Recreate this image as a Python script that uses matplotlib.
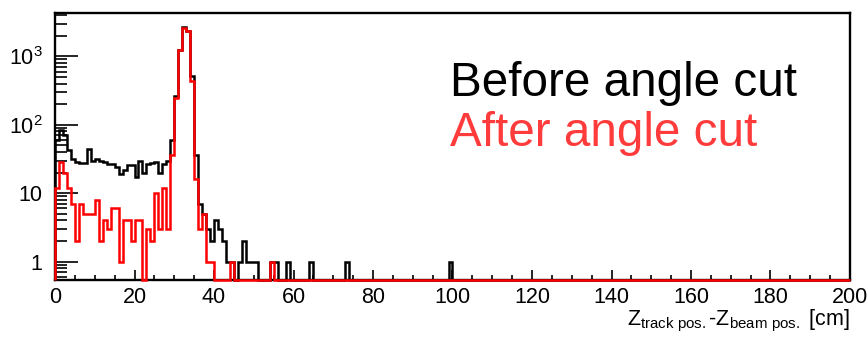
import numpy as np
import matplotlib
matplotlib.use('Agg')
import matplotlib.pyplot as plt
from matplotlib.ticker import FixedLocator, FixedFormatter, LogLocator, NullFormatter, MultipleLocator

plt.rcParams['font.family'] = ['Liberation Sans', 'DejaVu Sans']
plt.rcParams['mathtext.fontset'] = 'custom'
plt.rcParams['mathtext.rm'] = 'Liberation Sans'
plt.rcParams['mathtext.it'] = 'Liberation Sans:italic'

# histogram binning: 200 bins of 1 cm from 0 to 200
n_bins = 200
x_lo, x_hi = 0, 200

# counts per bin, bins 0..55
before_counts = [60, 85, 70, 43, 32, 29, 28, 28, 44, 30,
                 32, 30, 29, 27, 27, 24, 19, 22, 26, 26,
                 17, 30, 20, 27, 28, 29, 20, 27, 30, 60,
                 260, 1250, 2650, 2360, 510, 36, 7, 5, 3, 2,
                 4, 3, 2, 1, 1, 0, 1, 2, 1, 1,
                 1, 0, 0, 0, 1, 1]
after_counts = [12, 29, 20, 12, 7, 2, 7, 5, 5, 5,
                8, 2, 4, 3, 6, 6, 1, 4, 4, 2,
                4, 4, 0, 3, 2, 10, 3, 12, 3, 36,
                245, 1220, 2620, 2330, 430, 16, 3, 5, 1, 1,
                0, 0, 0, 0, 1, 0, 0, 0, 0, 0,
                0, 0, 0, 0, 1]
# isolated single entries further out (bin index, count)
before_tail = [(58, 1), (64, 1), (73, 1), (99, 1)]
after_tail = []

y_lo, y_hi = 0.54, 4300

edges = np.linspace(x_lo, x_hi, n_bins + 1)


def fill_hist(counts, tail):
    h = np.zeros(n_bins)
    h[:len(counts)] = counts
    for b, c in tail:
        h[b] = c
    # empty bins drawn on the bottom of the frame like ROOT does
    return np.where(h > 0, h, y_lo)


h_before = fill_hist(before_counts, before_tail)
h_after = fill_hist(after_counts, after_tail)

fig = plt.figure(figsize=(8.68, 3.37), dpi=100)
ax = fig.add_axes([55 / 868, 1 - 280 / 337, 795 / 868, 267 / 337])

ax.stairs(h_before, edges, baseline=y_lo, color='black', lw=1.8, zorder=3, clip_on=False)
ax.stairs(h_after, edges, baseline=y_lo, color='#ff0000', lw=1.8, zorder=4, clip_on=False)

ax.set_yscale('log')
ax.set_xlim(x_lo, x_hi)
ax.set_ylim(y_lo, y_hi)

# axis ticks, ROOT style (inside, left & bottom)
ax.xaxis.set_major_locator(MultipleLocator(20))
ax.xaxis.set_minor_locator(MultipleLocator(5))
ax.yaxis.set_major_locator(FixedLocator([1, 10, 100, 1000]))
ax.yaxis.set_major_formatter(FixedFormatter(['1', '10', r'$10^{2}$', r'$10^{3}$']))
ax.yaxis.set_minor_locator(LogLocator(base=10, subs=np.arange(2, 10)))
ax.yaxis.set_minor_formatter(NullFormatter())

ax.tick_params(axis='x', which='major', direction='in', length=7.5, width=1.2, labelsize=15.5, pad=5)
ax.tick_params(axis='x', which='minor', direction='in', length=3.8, width=1.2)
ax.tick_params(axis='y', which='major', direction='in', length=16.5, width=1.2, labelsize=15.5, pad=9)
ax.tick_params(axis='y', which='minor', direction='in', length=8.5, width=1.2)

for s in ax.spines.values():
    s.set_linewidth(1.7)

# axis title, right aligned under the axis
fig.text(850 / 868, 1 - 325 / 337,
         r'Z$_{\mathregular{track\ pos.}}$-Z$_{\mathregular{beam\ pos.}}$ [cm]',
         ha='right', va='baseline', fontsize=15.5)

# legend-like labels
fig.text(450 / 868, 1 - 96 / 337, 'Before angle cut', color='black',
         fontsize=34.3, ha='left', va='baseline')
fig.text(450 / 868, 1 - 146 / 337, 'After angle cut', color='#ff3b3b',
         fontsize=34.3, ha='left', va='baseline')

fig.savefig('out.png', dpi=100)
